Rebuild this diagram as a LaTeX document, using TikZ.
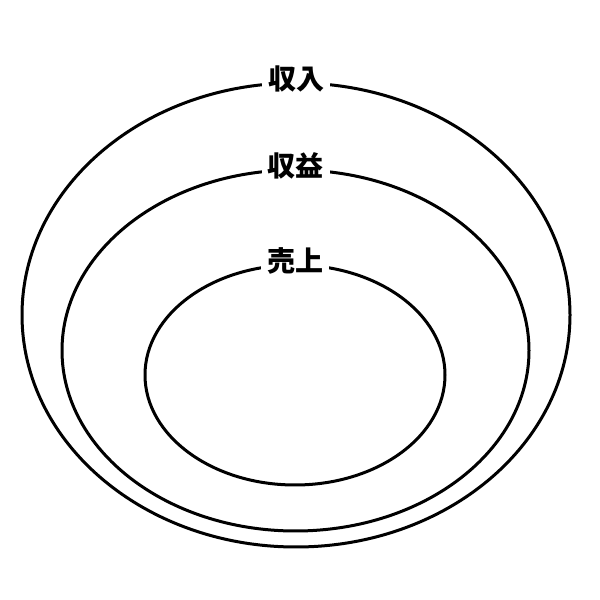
\documentclass[tikz,border=0pt]{standalone}
\usepackage{fontspec}
\newfontfamily\jpfont{Noto Sans CJK JP}
\usetikzlibrary{shapes.geometric}
\begin{document}
\begin{tikzpicture}[x=1pt,y=1pt,
  ring/.style={ellipse, draw=black, line width=3pt, inner sep=0pt},
  lab/.style={fill=white, inner xsep=6pt, inner ysep=2pt, font=\jpfont\bfseries\fontsize{28}{30}\selectfont, yshift=3pt}]
\useasboundingbox[fill=white] (0,0) rectangle (600,600);
\node[ring, minimum width=548pt, minimum height=464pt] (outer) at (296,285) {};
\node[ring, minimum width=467pt, minimum height=361pt] (middle) at (295.5,249.5) {};
\node[ring, minimum width=300pt, minimum height=220pt] (inner) at (295,225) {};
\node[lab] (l1) at (outer.north) {収入};
\node[lab] (l2) at (middle.north) {収益};
\node[lab] (l3) at (inner.north) {売上};
\end{tikzpicture}
\end{document}
